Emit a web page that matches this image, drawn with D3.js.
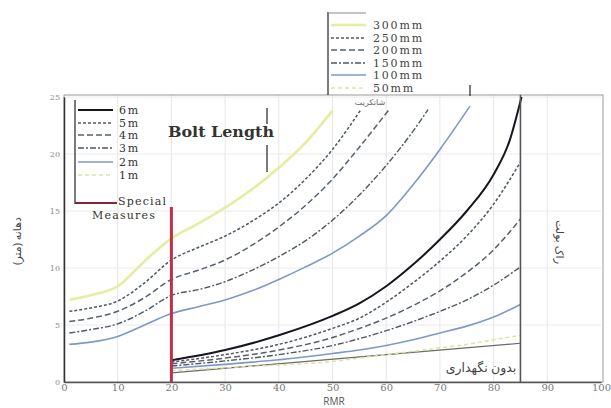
<!DOCTYPE html>
<html><head><meta charset="utf-8">
<script src="https://cdn.jsdelivr.net/npm/d3@7"></script>
<style>body{margin:0;background:#fff}svg{display:block}</style>
</head><body><div id="c"></div>
<script>
// ---- data ----
const xTicks = [0,10,20,30,40,50,60,70,80,90,100];
const yTicks = [0,5,10,15,20,25];
// shotcrete thickness curves [RMR, span(m)]
const shot300 = [[1,7.2],[5,7.6],[10,8.4],[15,10.6],[20,12.6],[25,13.9],[30,15.3],[35,16.9],[40,18.8],[45,21.0],[50,23.8]];
const shot250 = [[1,6.2],[5,6.5],[10,7.1],[15,8.7],[20,10.7],[25,11.8],[30,12.8],[35,14.1],[40,15.7],[45,17.8],[50,20.4],[55.3,23.9]];
const shot200 = [[1,5.3],[5,5.6],[10,6.2],[15,7.4],[20,9.0],[25,9.8],[30,10.7],[35,12.0],[40,13.6],[45,15.5],[50,17.8],[55,20.6],[60.7,24.0]];
const shot150 = [[1,4.3],[5,4.6],[10,5.1],[15,6.2],[20,7.6],[25,8.1],[30,8.8],[35,9.8],[40,11.0],[45,12.4],[50,14.2],[55,16.4],[60,19.0],[65,22.0],[67.8,23.9]];
const shot100 = [[1,3.3],[5,3.5],[10,4.0],[15,5.0],[20,6.0],[25,6.6],[30,7.2],[35,8.0],[40,9.0],[45,10.1],[50,11.3],[55,12.8],[60,14.6],[65,17.3],[70,20.4],[75.6,24.2]];
// bolt length curves
const bolt6 = [[20,1.9],[30,2.8],[40,4.1],[50,5.8],[55,6.9],[60,8.4],[65,10.3],[70,12.5],[75,15.0],[80,18.2],[83,21.2],[85.2,25]];
const bolt5 = [[20,1.75],[30,2.4],[40,3.3],[50,4.7],[55,5.6],[60,7.0],[65,8.7],[70,10.6],[75,12.8],[80,15.6],[85,19.3]];
const bolt4 = [[20,1.6],[30,2.1],[40,2.8],[50,3.9],[55,4.7],[60,5.6],[65,6.7],[70,8.0],[75,9.6],[80,11.6],[85,14.3]];
const bolt3 = [[20,1.4],[30,1.85],[40,2.4],[50,3.2],[55,3.8],[60,4.5],[65,5.3],[70,6.2],[75,7.2],[80,8.5],[85,10.1]];
const bolt2 = [[20,1.2],[30,1.55],[40,1.95],[50,2.5],[55,2.8],[60,3.2],[65,3.7],[70,4.3],[75,4.9],[80,5.7],[85,6.8]];
const bolt1 = [[20,1.0],[30,1.25],[40,1.5],[50,1.8],[55,2.1],[60,2.4],[65,2.7],[70,3.0],[75,3.3],[80,3.7],[85,4.1]];
const noSupport = [[20,0.8],[85,3.4]];
const specialRMR = 20, boltLimitRMR = 85;
const shotLabels = ["300mm","250mm","200mm","150mm","100mm","50mm"];
const boltLabels = ["6m","5m","4m","3m","2m","1m"];

// ---- styles ----
const styles = {
  solidYellow:{stroke:"#e6eca0",w:2.6,dash:null},
  dash5:{stroke:"#4d5866",w:1.5,dash:"3,2"},
  dash4:{stroke:"#55616e",w:1.5,dash:"6,3"},
  dashdot:{stroke:"#4d5866",w:1.4,dash:"6,2,2,2"},
  blue:{stroke:"#7f98c6",w:1.6,dash:null},
  yelDash:{stroke:"#dfe39a",w:1.5,dash:"4,3"},
  black:{stroke:"#15151f",w:2,dash:null}
};

const W=611,H=408;
const svg=d3.select("#c").append("svg").attr("width",W).attr("height",H);
const x=d3.scaleLinear().domain([0,100]).range([64,601]);
const y=d3.scaleLinear().domain([0,25]).range([382,97]);
const wserif="'DejaVu Serif','Liberation Serif',serif";

// grid
svg.append("g").selectAll("line").data(xTicks.slice(1,-1)).join("line")
  .attr("x1",d=>x(d)).attr("x2",d=>x(d)).attr("y1",y(0)).attr("y2",y(25.2))
  .attr("stroke","#e6e6e6").attr("stroke-width",1);
svg.append("g").selectAll("line").data(yTicks.slice(1)).join("line")
  .attr("x1",x(0)).attr("x2",x(100)).attr("y1",d=>y(d)).attr("y2",d=>y(d))
  .attr("stroke","#eaeaea").attr("stroke-width",1);

// frame
svg.append("rect").attr("x",x(0)).attr("y",95).attr("width",x(100)-x(0)+2).attr("height",y(0)-95)
  .attr("fill","none").attr("stroke","#9a9a9a").attr("stroke-width",1);

// axes
const xAxis=d3.axisBottom(x).tickValues(xTicks).tickSize(0).tickPadding(2);
const gx=svg.append("g").attr("transform",`translate(0,${y(0)})`).call(xAxis);
gx.select(".domain").attr("stroke","#555").attr("stroke-width",1.5);
gx.selectAll("text").attr("font-family",wserif).attr("font-size",10).attr("fill","#777");
const yAxis=d3.axisLeft(y).tickValues(yTicks).tickSize(0).tickPadding(4);
const gy=svg.append("g").attr("transform",`translate(${x(0)},0)`).call(yAxis);
gy.select(".domain").attr("stroke","#333").attr("stroke-width",1.5);
gy.selectAll("text").attr("font-family",wserif).attr("font-size",8).attr("fill","#888");

const line=d3.line().x(d=>x(d[0])).y(d=>y(d[1])).curve(d3.curveMonotoneX);
function draw(data,st){
  svg.append("path").datum(data).attr("d",line).attr("fill","none")
    .attr("stroke",st.stroke).attr("stroke-width",st.w)
    .attr("stroke-dasharray",st.dash).attr("stroke-linecap","butt");
}
draw(noSupport,{stroke:"#6a6a6a",w:1.2,dash:null});
draw(shot300,styles.solidYellow);
draw(shot250,styles.dash5);
draw(shot200,styles.dash4);
draw(shot150,styles.dashdot);
draw(shot100,styles.blue);
draw(bolt1,styles.yelDash);
draw(bolt2,styles.blue);
draw(bolt3,styles.dashdot);
draw(bolt4,styles.dash4);
draw(bolt5,styles.dash5);
draw(bolt6,styles.black);

svg.append("line").attr("x1",x(boltLimitRMR)).attr("x2",x(boltLimitRMR)).attr("y1",y(0)).attr("y2",y(25.2))
  .attr("stroke","#555").attr("stroke-width",1.6);
svg.append("line").attr("x1",x(specialRMR)).attr("x2",x(specialRMR)).attr("y1",y(0)).attr("y2",207)
  .attr("stroke","#c42d4a").attr("stroke-width",3);

// bolt legend
const lg=svg.append("g");
lg.append("line").attr("x1",75).attr("x2",75).attr("y1",100).attr("y2",204).attr("stroke","#333").attr("stroke-width",1.3);
lg.append("line").attr("x1",267).attr("x2",267).attr("y1",108).attr("y2",124).attr("stroke","#333").attr("stroke-width",1.3);
lg.append("line").attr("x1",267).attr("x2",267).attr("y1",145).attr("y2",172).attr("stroke","#333").attr("stroke-width",1.3);
const boltStyles=[styles.black,styles.dash5,styles.dash4,styles.dashdot,styles.blue,styles.yelDash];
const bY=[110,123,135,148,162,175];
boltLabels.forEach((t,i)=>{
  const st=boltStyles[i];
  lg.append("line").attr("x1",78).attr("x2",113).attr("y1",bY[i]).attr("y2",bY[i])
    .attr("stroke",st.stroke).attr("stroke-width",st.w).attr("stroke-dasharray",st.dash);
  lg.append("text").attr("x",119).attr("y",bY[i]+4).text(t)
    .attr("font-family",wserif).attr("font-size",11).attr("letter-spacing",1.8).attr("fill","#333");
});
lg.append("text").attr("x",168).attr("y",137).text("Bolt Length")
  .attr("font-family",wserif).attr("font-size",14).attr("font-weight","bold")
  .attr("textLength",106).attr("lengthAdjust","spacingAndGlyphs").attr("fill","#333");
lg.append("line").attr("x1",75).attr("x2",117).attr("y1",203).attr("y2",203).attr("stroke","#8a2238").attr("stroke-width",2);
lg.append("text").attr("x",118).attr("y",205).text("Special")
  .attr("font-family",wserif).attr("font-size",11).attr("letter-spacing",1.2).attr("fill","#333");
lg.append("text").attr("x",92).attr("y",219).text("Measures")
  .attr("font-family",wserif).attr("font-size",11).attr("letter-spacing",1.2).attr("fill","#333");

// shotcrete legend
const sg=svg.append("g");
sg.append("line").attr("x1",328).attr("x2",328).attr("y1",12).attr("y2",95).attr("stroke","#333").attr("stroke-width",1.3);
sg.append("line").attr("x1",328).attr("x2",366).attr("y1",13).attr("y2",13).attr("stroke","#888").attr("stroke-width",1);
sg.append("line").attr("x1",470).attr("x2",470).attr("y1",85).attr("y2",96).attr("stroke","#333").attr("stroke-width",1.3);
const shotStyles=[styles.solidYellow,styles.dash5,styles.dash4,styles.dashdot,styles.blue,styles.yelDash];
const sY=[25,38,50,63,75,88];
shotLabels.forEach((t,i)=>{
  const st=shotStyles[i];
  sg.append("line").attr("x1",331).attr("x2",366).attr("y1",sY[i]).attr("y2",sY[i])
    .attr("stroke",st.stroke).attr("stroke-width",st.w).attr("stroke-dasharray",st.dash);
  sg.append("text").attr("x",373).attr("y",sY[i]+4).text(t)
    .attr("font-family",wserif).attr("font-size",11).attr("letter-spacing",1.8).attr("fill","#444");
});

// texts
const fa="'Noto Sans','DejaVu Sans',sans-serif";
svg.append("text").attr("x",370).attr("y",105).attr("text-anchor","middle").text("شاتکریت")
  .attr("font-family",fa).attr("font-size",8).attr("fill","#666");
svg.append("text").attr("x",481).attr("y",372).attr("text-anchor","middle").text("بدون نگهداری")
  .attr("font-family",fa).attr("font-size",12.5).attr("fill","#444");
svg.append("text").attr("transform",`translate(556,242) rotate(90)`).attr("text-anchor","middle").text("راک بولت")
  .attr("font-family",fa).attr("font-size",11).attr("fill","#444");
svg.append("text").attr("transform",`translate(21,241) rotate(-90)`).attr("text-anchor","middle").text("دهانه (متر)")
  .attr("font-family",fa).attr("font-size",11).attr("fill","#444");
svg.append("text").attr("x",334).attr("y",405).attr("text-anchor","middle").text("RMR")
  .attr("font-family","'Open Sans',sans-serif").attr("font-size",10).attr("fill","#555");
</script></body></html>
